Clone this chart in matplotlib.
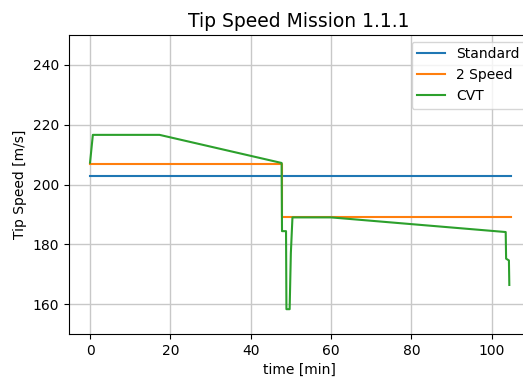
import matplotlib

matplotlib.use("Agg")
import matplotlib.pyplot as plt

# rotor tip speed over the mission, one trace per transmission concept
std_t = [0.0, 104.7]
std_v = [203.0, 203.0]

two_t = [0.0, 47.8, 47.8, 104.7]
two_v = [207.0, 207.0, 189.0, 189.0]

cvt_t = [0.0, 0.7, 17.3, 47.7, 47.8, 48.8, 48.9, 49.7, 50.0, 50.4,
         60.0, 103.5, 103.6, 104.3, 104.4]
cvt_v = [207.3, 216.6, 216.6, 207.2, 184.4, 184.4, 158.3, 158.3, 177.0, 189.0,
         189.0, 184.1, 175.2, 174.6, 166.4]

fig = plt.figure(figsize=(5.23, 3.79), dpi=100)
# axes runs past the right edge of the canvas
ax = fig.add_axes([69 / 523, 45 / 379, 460 / 523, 299 / 379])

ax.plot(std_t, std_v, color="#1f77b4", lw=1.5, label="Standard")
ax.plot(two_t, two_v, color="#ff7f0e", lw=1.5, label="2 Speed")
ax.plot(cvt_t, cvt_v, color="#2ca02c", lw=1.5, label="CVT")

ax.set_xlim(-5.24, 109.3)
ax.set_ylim(150, 250)
ax.set_xticks([0, 20, 40, 60, 80, 100])
ax.set_yticks([160, 180, 200, 220, 240])
ax.grid(True, color="#c8c8c8", lw=1.0)
ax.set_axisbelow(True)

ax.set_xlabel("time [min]")
ax.set_ylabel("Tip Speed [m/s]")
ax.set_title("Tip Speed Mission 1.1.1", fontsize=13.5)

ax.legend(loc="upper left", bbox_to_anchor=(411.5 / 523, 1 - 41.5 / 379),
          bbox_transform=fig.transFigure, borderaxespad=0, framealpha=0.8)

fig.savefig("out.png", dpi=100)
plt.close(fig)
